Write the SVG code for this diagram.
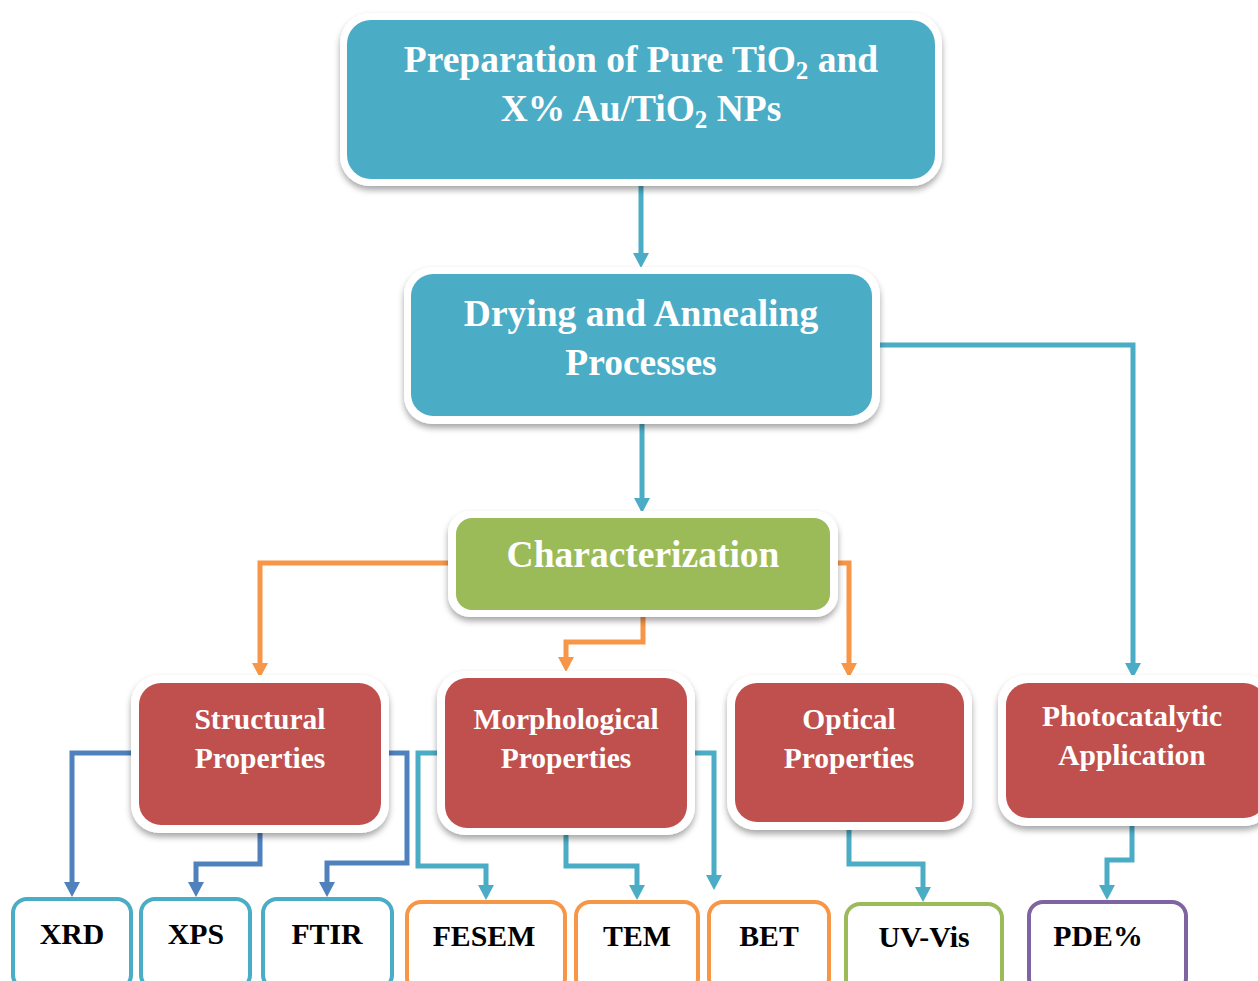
<svg xmlns="http://www.w3.org/2000/svg" width="1258" height="981" viewBox="0 0 1258 981">
<defs>
<filter id="sh" x="-10%" y="-10%" width="120%" height="130%">
<feDropShadow dx="0" dy="4" stdDeviation="3" flood-color="#000" flood-opacity="0.35"/>
</filter>
<marker id="aOr" markerUnits="userSpaceOnUse" markerWidth="16" markerHeight="15" refX="8" refY="0" viewBox="0 0 16 15"><path d="M0,0 L16,0 L8,15 Z" fill="#F79646"/></marker>
<marker id="aBl" markerUnits="userSpaceOnUse" markerWidth="16" markerHeight="15" refX="8" refY="0" viewBox="0 0 16 15"><path d="M0,0 L16,0 L8,15 Z" fill="#4F81BD"/></marker>
<marker id="aT" markerUnits="userSpaceOnUse" markerWidth="16" markerHeight="15" refX="8" refY="0" viewBox="0 0 16 15"><path d="M0,0 L16,0 L8,15 Z" fill="#4BACC6"/></marker>
</defs>
<style>
.outer{fill:#fff;filter:url(#sh)}
.teal{fill:#4BACC6}
.green{fill:#9BBB59}
.red{fill:#C0504D}
.big{font-family:"Liberation Serif","Times New Roman",serif;font-weight:bold;font-size:37.5px;fill:#fff;text-anchor:middle}
.mid{font-family:"Liberation Serif","Times New Roman",serif;font-weight:bold;font-size:29.5px;fill:#fff;text-anchor:middle}
.small{font-family:"Liberation Serif","Times New Roman",serif;font-weight:bold;font-size:29.8px;fill:#000;text-anchor:middle}
.leaf{fill:#fff;stroke-width:4}
.c{fill:none;stroke-width:5}
.ct{stroke:#4BACC6}
.co{stroke:#F79646}
.cb{stroke:#4F81BD}
</style>
<rect width="1258" height="981" fill="#fff"/>

<g id="connectors">
<path class="c ct" d="M641,183 V253" marker-end="url(#aT)"/>
<path class="c ct" d="M642,420 V498" marker-end="url(#aT)"/>
<path class="c ct" d="M876,345 H1133 V663" marker-end="url(#aT)"/>
<path class="c co" d="M452,563 H260 V663" marker-end="url(#aOr)"/>
<path class="c co" d="M643,615 V642 H566 V657" marker-end="url(#aOr)"/>
<path class="c co" d="M834,563 H849 V663" marker-end="url(#aOr)"/>
<path class="c cb" d="M135,753 H72 V882" marker-end="url(#aBl)"/>
<path class="c cb" d="M260,829 V864 H196 V882" marker-end="url(#aBl)"/>
<path class="c cb" d="M385,753 H407 V863 H327 V882" marker-end="url(#aBl)"/>
<path class="c ct" d="M441,753 H418 V866 H486 V885" marker-end="url(#aT)"/>
<path class="c ct" d="M566,832 V866 H637 V885" marker-end="url(#aT)"/>
<path class="c ct" d="M691,753 H714 V875" marker-end="url(#aT)"/>
<path class="c ct" d="M849,826 V864 H923 V887" marker-end="url(#aT)"/>
<path class="c ct" d="M1132,822 V860 H1107 V885" marker-end="url(#aT)"/>
</g>

<g id="prep">
<rect class="outer" x="340" y="13" width="602" height="173" rx="30"/>
<rect class="teal" x="347" y="20" width="588" height="159" rx="24"/>
<text class="big" x="641" y="72">Preparation of Pure TiO<tspan font-size="25" dy="7">2</tspan><tspan dy="-7"> and</tspan></text>
<text class="big" x="641" y="121">X% Au/TiO<tspan font-size="25" dy="7">2</tspan><tspan dy="-7"> NPs</tspan></text>
</g>

<g id="drying">
<rect class="outer" x="404" y="267" width="476" height="157" rx="28"/>
<rect class="teal" x="411" y="274" width="461" height="142" rx="22"/>
<text class="big" x="641" y="326">Drying and Annealing</text>
<text class="big" x="641" y="375">Processes</text>
</g>

<g id="char">
<rect class="outer" x="448" y="511" width="390" height="106" rx="22"/>
<rect class="green" x="456" y="518" width="374" height="92" rx="16"/>
<text class="big" x="643" y="567">Characterization</text>
</g>

<g id="structural">
<rect class="outer" x="131" y="675" width="258" height="158" rx="28"/>
<rect class="red" x="139" y="683" width="242" height="142" rx="22"/>
<text class="mid" x="260" y="729">Structural</text>
<text class="mid" x="260" y="768">Properties</text>
</g>

<g id="morph">
<rect class="outer" x="437" y="671" width="258" height="164" rx="28"/>
<rect class="red" x="445" y="678" width="242" height="150" rx="22"/>
<text class="mid" x="566" y="729">Morphological</text>
<text class="mid" x="566" y="768">Properties</text>
</g>

<g id="optical">
<rect class="outer" x="727" y="675" width="245" height="155" rx="28"/>
<rect class="red" x="735" y="683" width="229" height="139" rx="22"/>
<text class="mid" x="849" y="729">Optical</text>
<text class="mid" x="849" y="768">Properties</text>
</g>

<g id="photo">
<rect class="outer" x="998" y="675" width="275" height="151" rx="28"/>
<rect class="red" x="1006" y="683" width="260" height="135" rx="22"/>
<text class="mid" x="1132" y="726">Photocatalytic</text>
<text class="mid" x="1132" y="765">Application</text>
</g>

<g id="xrd"><rect class="leaf" x="13" y="899" width="118" height="90" rx="14" stroke="#4BACC6"/><text class="small" x="72" y="944">XRD</text></g>
<g id="xps"><rect class="leaf" x="141" y="899" width="109" height="90" rx="14" stroke="#4BACC6"/><text class="small" x="196" y="944">XPS</text></g>
<g id="ftir"><rect class="leaf" x="263" y="899" width="129" height="90" rx="14" stroke="#4BACC6"/><text class="small" x="327" y="944">FTIR</text></g>
<g id="fesem"><rect class="leaf" x="407" y="902" width="158" height="90" rx="14" stroke="#F79646"/><text class="small" x="484" y="946">FESEM</text></g>
<g id="tem"><rect class="leaf" x="576" y="902" width="122" height="90" rx="14" stroke="#F79646"/><text class="small" x="637" y="946">TEM</text></g>
<g id="bet"><rect class="leaf" x="709" y="902" width="120" height="90" rx="14" stroke="#F79646"/><text class="small" x="769" y="946">BET</text></g>
<g id="uvvis"><rect class="leaf" x="846" y="904" width="156" height="90" rx="14" stroke="#9BBB59"/><text class="small" x="924" y="947">UV-Vis</text></g>
<g id="pde"><rect class="leaf" x="1029" y="902" width="157" height="90" rx="14" stroke="#8064A2"/><text class="small" x="1098" y="946">PDE%</text></g>
</svg>
